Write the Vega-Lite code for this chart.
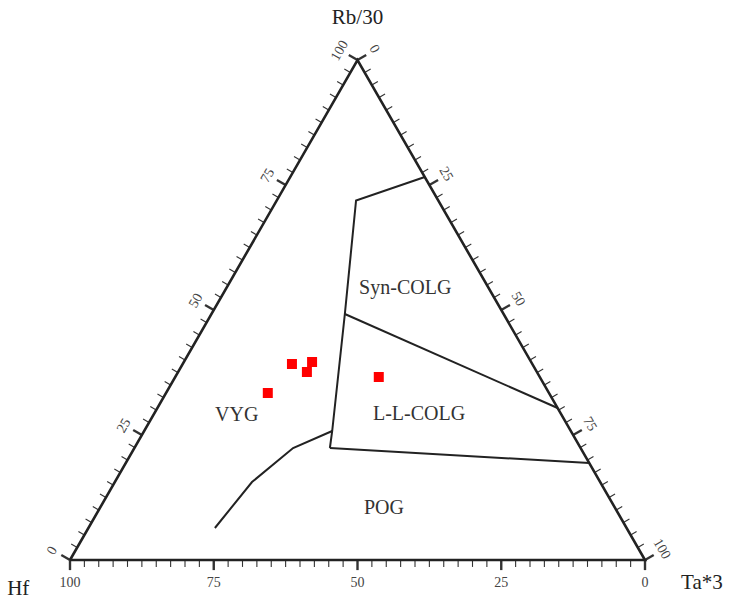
{
  "$schema": "https://vega.github.io/schema/vega-lite/v6.json",
  "autosize": "none",
  "width": 575,
  "height": 500,
  "padding": {"left": 70, "top": 60, "right": 84, "bottom": 42},
  "background": "white",
  "config": {"view": {"stroke": null}, "text": {"font": "Liberation Serif"}},
  "datasets": {
    "frame": [
      {"ord": 1, "Hf": 100, "Rb": 0, "Ta": 0},
      {"ord": 2, "Hf": 0, "Rb": 0, "Ta": 100},
      {"ord": 3, "Hf": 0, "Rb": 100, "Ta": 0},
      {"ord": 4, "Hf": 100, "Rb": 0, "Ta": 0}
    ],
    "bounds": [
      {"seg": "a", "ord": 1, "Hf": 0, "Rb": 76.6, "Ta": 23.4},
      {"seg": "a", "ord": 2, "Hf": 14.3, "Rb": 71.9, "Ta": 13.8},
      {"seg": "a", "ord": 3, "Hf": 27.6, "Rb": 49.2, "Ta": 23.2},
      {"seg": "a", "ord": 4, "Hf": 41.5, "Rb": 25.8, "Ta": 32.7},
      {"seg": "a", "ord": 5, "Hf": 43.6, "Rb": 22.4, "Ta": 34.0},
      {"seg": "b", "ord": 1, "Hf": 27.6, "Rb": 49.2, "Ta": 23.2},
      {"seg": "b", "ord": 2, "Hf": 0, "Rb": 30.4, "Ta": 69.6},
      {"seg": "c", "ord": 1, "Hf": 43.6, "Rb": 22.4, "Ta": 34.0},
      {"seg": "c", "ord": 2, "Hf": 0, "Rb": 19.4, "Ta": 80.6},
      {"seg": "d", "ord": 1, "Hf": 41.5, "Rb": 25.8, "Ta": 32.7},
      {"seg": "d", "ord": 2, "Hf": 50.0, "Rb": 22.4, "Ta": 27.6},
      {"seg": "d", "ord": 3, "Hf": 60.55, "Rb": 15.6, "Ta": 23.85},
      {"seg": "d", "ord": 4, "Hf": 71.6, "Rb": 6.4, "Ta": 22.0}
    ],
    "points": [
      {"Hf": 41.8, "Rb": 39.2, "Ta": 19.0},
      {"Hf": 38.1, "Rb": 39.6, "Ta": 22.3},
      {"Hf": 40.0, "Rb": 37.6, "Ta": 22.4},
      {"Hf": 48.9, "Rb": 33.4, "Ta": 17.7},
      {"Hf": 28.0, "Rb": 36.6, "Ta": 35.4}
    ],
    "fields": [
      {"label": "Syn-COLG", "Hf": 14.5, "Rb": 54.4, "Ta": 31.1},
      {"label": "L-L-COLG", "Hf": 24.7, "Rb": 29.2, "Ta": 46.1},
      {"label": "VYG", "Hf": 56.5, "Rb": 29.0, "Ta": 14.5},
      {"label": "POG", "Hf": 40.2, "Rb": 10.4, "Ta": 49.4}
    ],
    "ticks": [
      {"v": 0}, {"v": 2.5}, {"v": 5}, {"v": 7.5}, {"v": 10}, {"v": 12.5}, {"v": 15}, {"v": 17.5},
      {"v": 20}, {"v": 22.5}, {"v": 25}, {"v": 27.5}, {"v": 30}, {"v": 32.5}, {"v": 35}, {"v": 37.5},
      {"v": 40}, {"v": 42.5}, {"v": 45}, {"v": 47.5}, {"v": 50}, {"v": 52.5}, {"v": 55}, {"v": 57.5},
      {"v": 60}, {"v": 62.5}, {"v": 65}, {"v": 67.5}, {"v": 70}, {"v": 72.5}, {"v": 75}, {"v": 77.5},
      {"v": 80}, {"v": 82.5}, {"v": 85}, {"v": 87.5}, {"v": 90}, {"v": 92.5}, {"v": 95}, {"v": 97.5},
      {"v": 100}
    ],
    "ticklabels": [{"v": 0}, {"v": 25}, {"v": 50}, {"v": 75}, {"v": 100}],
    "vertices": [
      {"label": "Rb/30", "X": 50, "Y": 93.9},
      {"label": "Hf", "X": -9.0, "Y": -5.0},
      {"label": "Ta*3", "X": 109.9, "Y": -3.9}
    ]
  },
  "encoding": {
    "x": {"field": "X", "type": "quantitative", "scale": {"domain": [0, 100], "nice": false, "zero": false}, "axis": null},
    "y": {"field": "Y", "type": "quantitative", "scale": {"domain": [0, 86.6025], "nice": false, "zero": false}, "axis": null}
  },
  "layer": [
    {
      "data": {"name": "ticks"},
      "transform": [
        {"calculate": "datum.v % 25 === 0 ? 1.75 : 1.2", "as": "L"},
        {"calculate": "100 - datum.v", "as": "X"},
        {"calculate": "0", "as": "Y"},
        {"calculate": "datum.X", "as": "X2"},
        {"calculate": "-datum.L", "as": "Y2"}
      ],
      "mark": {"type": "rule", "color": "#333"},
      "encoding": {
        "x2": {"field": "X2"},
        "y2": {"field": "Y2"},
        "strokeWidth": {"condition": {"test": "datum.v % 25 === 0", "value": 2.4}, "value": 1.1}
      }
    },
    {
      "data": {"name": "ticks"},
      "transform": [
        {"calculate": "datum.v % 25 === 0 ? 1.75 : 1.2", "as": "L"},
        {"calculate": "50 + datum.v / 2", "as": "X"},
        {"calculate": "(100 - datum.v) * 0.8660254", "as": "Y"},
        {"calculate": "datum.X + datum.L * 0.866", "as": "X2"},
        {"calculate": "datum.Y + datum.L * 0.5", "as": "Y2"}
      ],
      "mark": {"type": "rule", "color": "#333"},
      "encoding": {
        "x2": {"field": "X2"},
        "y2": {"field": "Y2"},
        "strokeWidth": {"condition": {"test": "datum.v % 25 === 0", "value": 2.4}, "value": 1.1}
      }
    },
    {
      "data": {"name": "ticks"},
      "transform": [
        {"calculate": "datum.v % 25 === 0 ? 1.75 : 1.2", "as": "L"},
        {"calculate": "datum.v / 2", "as": "X"},
        {"calculate": "datum.v * 0.8660254", "as": "Y"},
        {"calculate": "datum.X - datum.L * 0.866", "as": "X2"},
        {"calculate": "datum.Y + datum.L * 0.5", "as": "Y2"}
      ],
      "mark": {"type": "rule", "color": "#333"},
      "encoding": {
        "x2": {"field": "X2"},
        "y2": {"field": "Y2"},
        "strokeWidth": {"condition": {"test": "datum.v % 25 === 0", "value": 2.4}, "value": 1.1}
      }
    },
    {
      "data": {"name": "frame"},
      "transform": [
        {"calculate": "(datum.Ta + datum.Rb / 2) * 100 / (datum.Hf + datum.Rb + datum.Ta)", "as": "X"},
        {"calculate": "datum.Rb * 0.8660254 * 100 / (datum.Hf + datum.Rb + datum.Ta)", "as": "Y"}
      ],
      "mark": {"type": "line", "color": "#222", "strokeWidth": 2.6, "strokeJoin": "miter"},
      "encoding": {"order": {"field": "ord", "type": "quantitative"}}
    },
    {
      "data": {"name": "bounds"},
      "transform": [
        {"calculate": "(datum.Ta + datum.Rb / 2) * 100 / (datum.Hf + datum.Rb + datum.Ta)", "as": "X"},
        {"calculate": "datum.Rb * 0.8660254 * 100 / (datum.Hf + datum.Rb + datum.Ta)", "as": "Y"}
      ],
      "mark": {"type": "line", "color": "#222", "strokeWidth": 2},
      "encoding": {
        "detail": {"field": "seg", "type": "nominal"},
        "order": {"field": "ord", "type": "quantitative"}
      }
    },
    {
      "data": {"name": "points"},
      "transform": [
        {"calculate": "(datum.Ta + datum.Rb / 2) * 100 / (datum.Hf + datum.Rb + datum.Ta)", "as": "X"},
        {"calculate": "datum.Rb * 0.8660254 * 100 / (datum.Hf + datum.Rb + datum.Ta)", "as": "Y"}
      ],
      "mark": {"type": "square", "filled": true, "color": "#ff0000", "opacity": 1, "size": 100}
    },
    {
      "data": {"name": "fields"},
      "transform": [
        {"calculate": "(datum.Ta + datum.Rb / 2) * 100 / (datum.Hf + datum.Rb + datum.Ta)", "as": "X"},
        {"calculate": "datum.Rb * 0.8660254 * 100 / (datum.Hf + datum.Rb + datum.Ta)", "as": "Y"}
      ],
      "mark": {"type": "text", "fontSize": 20, "color": "#333", "baseline": "middle", "align": "center"},
      "encoding": {"text": {"field": "label"}}
    },
    {
      "data": {"name": "ticklabels"},
      "transform": [
        {"calculate": "100 - datum.v", "as": "X"},
        {"calculate": "-4.0", "as": "Y"}
      ],
      "mark": {"type": "text", "fontSize": 14, "color": "#444", "baseline": "middle", "align": "center"},
      "encoding": {"text": {"field": "v"}}
    },
    {
      "data": {"name": "ticklabels"},
      "transform": [
        {"calculate": "50 + datum.v / 2 + 2.9", "as": "X"},
        {"calculate": "(100 - datum.v) * 0.8660254 + 1.9", "as": "Y"}
      ],
      "mark": {"type": "text", "fontSize": 14, "color": "#444", "baseline": "middle", "align": "center", "angle": 60},
      "encoding": {"text": {"field": "v"}}
    },
    {
      "data": {"name": "ticklabels"},
      "transform": [
        {"calculate": "datum.v / 2 - 3.1", "as": "X"},
        {"calculate": "datum.v * 0.8660254 + 1.6", "as": "Y"}
      ],
      "mark": {"type": "text", "fontSize": 14, "color": "#444", "baseline": "middle", "align": "center", "angle": -60},
      "encoding": {"text": {"field": "v"}}
    },
    {
      "data": {"name": "vertices"},
      "mark": {"type": "text", "fontSize": 21, "color": "#222", "baseline": "middle", "align": "center"},
      "encoding": {"text": {"field": "label"}}
    }
  ]
}
